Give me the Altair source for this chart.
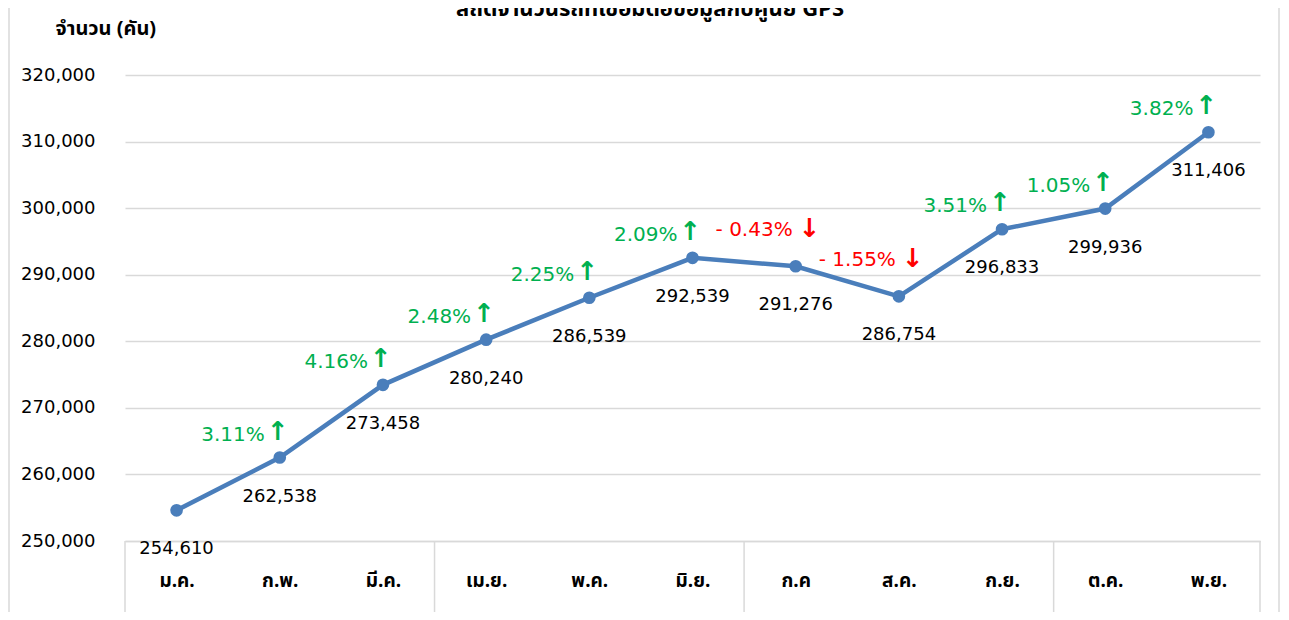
import altair as alt
import pandas as pd
import json

months = ["ม.ค.", "ก.พ.", "มี.ค.", "เม.ย.", "พ.ค.", "มิ.ย.", "ก.ค", "ส.ค.", "ก.ย.", "ต.ค.", "พ.ย."]
vehicles = [254610, 262538, 273458, 280240, 286539, 292539, 291276, 286754, 296833, 299936, 311406]
pct_change = [None, 3.11, 4.16, 2.48, 2.25, 2.09, -0.43, -1.55, 3.51, 1.05, 3.82]
y_ticks = [250000, 260000, 270000, 280000, 290000, 300000, 310000, 320000]
title_text = "สถิติจำนวนรถที่เชื่อมต่อข้อมูลกับศูนย์ GPS"
y_title = "จำนวน (คัน)"

W, H = 1135, 466
FONT = "DejaVu Sans"
THAI = "Noto Sans Thai, Tahoma, Noto Sans, sans-serif"
BLUE = "#4a7ebb"
GREEN = "#00b050"
RED = "#ff0000"
GRID = "#d9d9d9"


def fmt_pct(v):
    if v is None:
        return ""
    return f"{v:.2f}%" if v >= 0 else f"- {abs(v):.2f}%"


df = pd.DataFrame({
    "idx": list(range(len(months))),
    "month": months,
    "value": vehicles,
    "pct": pct_change,
})
df["pct_label"] = [fmt_pct(v) for v in pct_change]
df["value_label"] = [f"{v:,}" for v in vehicles]

up = df[df["pct"].notna() & (df["pct"] >= 0)]
down = df[df["pct"].notna() & (df["pct"] < 0)]

n = len(months)
bounds = [i - 0.5 for i in range(0, n, 3)] + [n - 0.5]
bdf = pd.DataFrame({"b": bounds})

xscale = alt.Scale(domain=[-0.5, n - 0.5], nice=False, zero=False)
yscale = alt.Scale(domain=[y_ticks[0], y_ticks[-1]], nice=False, zero=False)

label_expr = json.dumps(months, ensure_ascii=False) + "[datum.value]"

x_enc = alt.X("idx:Q", scale=xscale, axis=alt.Axis(
    values=list(range(n)), labelExpr=label_expr, title=None, grid=False,
    ticks=False, domain=True, domainColor=GRID, domainWidth=1.5,
    labelPadding=39, labelBaseline="middle", labelFont=THAI, labelFontSize=19,
    labelFontWeight="bold", labelColor="#000000", labelFlush=False, labelAngle=0))
y_enc = alt.Y("value:Q", scale=yscale, axis=alt.Axis(
    values=y_ticks, format=",d", title=y_title, grid=True, gridColor=GRID,
    gridWidth=1.5, ticks=False, domain=False, labelPadding=30,
    labelFont=FONT, labelFontSize=18, labelColor="#000000",
    titleAngle=0, titleAlign="left", titleBaseline="middle", titleX=-70,
    titleY=-47, titleFont=THAI, titleFontSize=20, titleFontWeight="bold",
    titleColor="#000000"))

base = alt.Chart(df)

line = base.mark_line(color=BLUE, strokeWidth=4.5).encode(x=x_enc, y=y_enc)
pts = base.mark_point(filled=True, color=BLUE, size=160, opacity=1).encode(x="idx:Q", y="value:Q")
vals = base.mark_text(font=FONT, fontSize=18, color="#000000", dy=39, baseline="middle").encode(
    x="idx:Q", y="value:Q", text="value_label:N")

up_txt = alt.Chart(up).mark_text(font=FONT, fontSize=20, color=GREEN, align="right",
                                 baseline="middle", dx=-15, dy=-23).encode(
    x="idx:Q", y="value:Q", text="pct_label:N")
up_arr = alt.Chart(up).mark_text(font=FONT, fontSize=26, fontWeight="bold", color=GREEN,
                                 baseline="middle", dx=-2, dy=-26).encode(
    x="idx:Q", y="value:Q", text=alt.value("↑"))
down_txt = alt.Chart(down).mark_text(font=FONT, fontSize=20, color=RED, align="right",
                                     baseline="middle", dx=-3, dy=-36).encode(
    x="idx:Q", y="value:Q", text="pct_label:N")
down_arr = alt.Chart(down).mark_text(font=FONT, fontSize=26, fontWeight="bold", color=RED,
                                     baseline="middle", dx=14, dy=-37).encode(
    x="idx:Q", y="value:Q", text=alt.value("↓"))

seps = alt.Chart(bdf).mark_rule(color=GRID, strokeWidth=1.5).encode(
    x="b:Q", y=alt.value(H), y2=alt.value(H + 80))

one = alt.Chart(pd.DataFrame({"t": [title_text]}))
title = one.mark_text(font=THAI, fontSize=22, fontWeight="bold", color="#000000",
                      align="center", baseline="alphabetic").encode(
    x=alt.value(525), y=alt.value(-59), text="t:N")
left_border = one.mark_rule(color=GRID, strokeWidth=1.5).encode(
    x=alt.value(-116), y=alt.value(-67), y2=alt.value(H + 80))
right_border = one.mark_rule(color=GRID, strokeWidth=1.5).encode(
    x=alt.value(W + 19), y=alt.value(-67), y2=alt.value(H + 80))

chart = alt.layer(
    seps, left_border, right_border, line, pts, vals, up_txt, up_arr, down_txt, down_arr, title
).properties(
    width=W, height=H,
    autosize=alt.AutoSizeParams(type="none"),
    padding={"left": 117, "top": 67, "right": 20, "bottom": 71},
).configure(background="#ffffff", view=alt.ViewConfig(stroke=None))

chart.save("out.html", embed_options={"renderer": "svg", "actions": False})
